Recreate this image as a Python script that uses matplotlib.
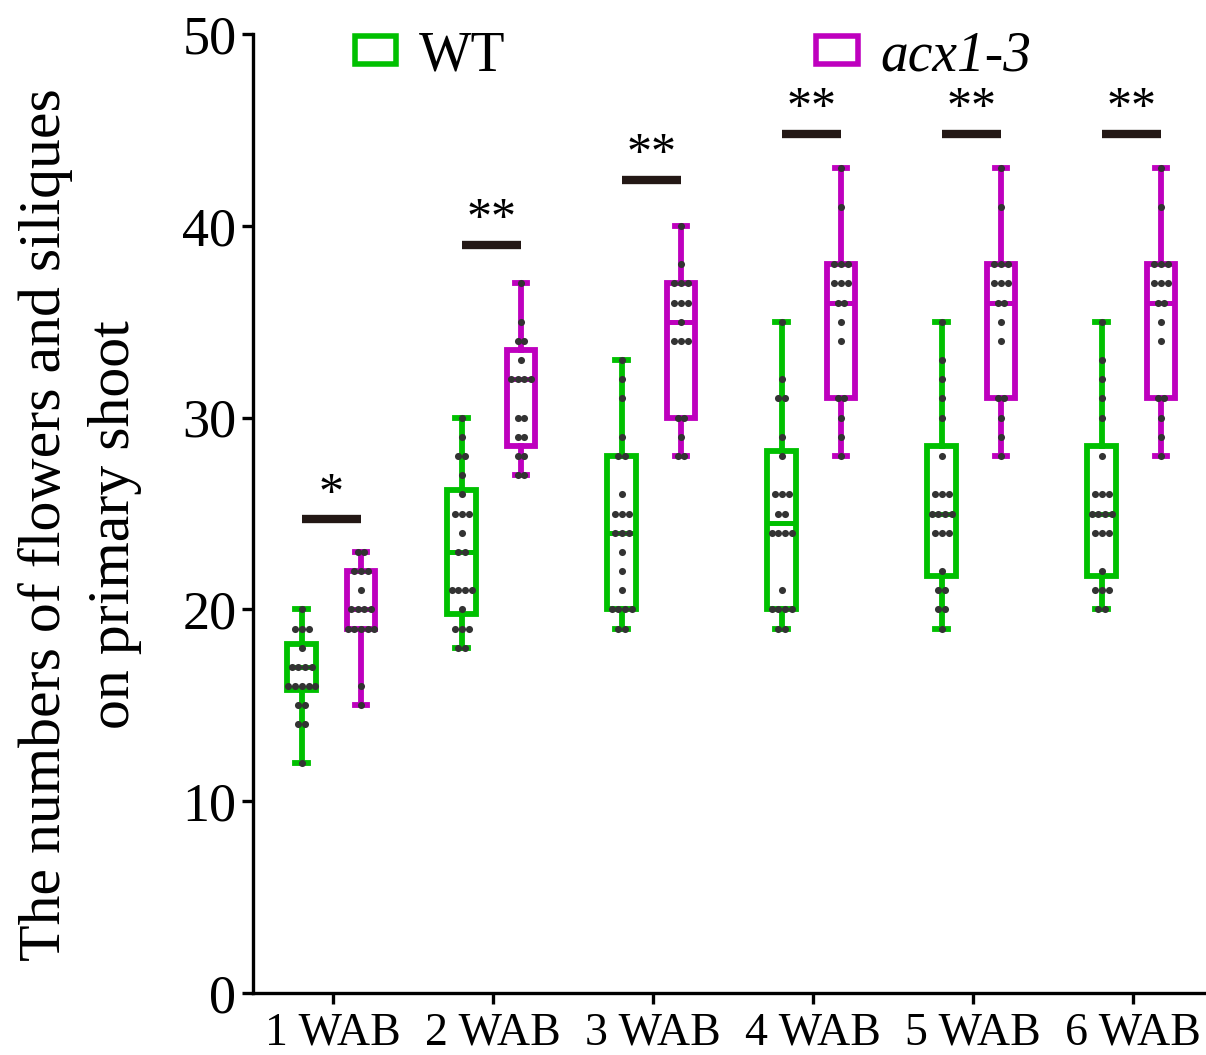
import matplotlib
matplotlib.use("Agg")
import matplotlib.pyplot as plt
from matplotlib.patches import Patch

plt.rcParams['font.family'] = ['Liberation Serif', 'DejaVu Serif']

groups = ['1 WAB', '2 WAB', '3 WAB', '4 WAB', '5 WAB', '6 WAB']

# individual plants
wt_values = [
    [20, 19, 19, 19, 18, 17, 17, 17, 17, 16, 16, 16, 16, 16, 15, 15, 14, 14, 12],
    [30, 29, 28, 28, 27, 26, 25, 25, 25, 24, 23, 23, 21, 21, 21, 21, 20, 19, 19, 19, 18, 18],
    [33, 32, 31, 29, 28, 28, 26, 25, 25, 25, 24, 24, 24, 23, 22, 21, 20, 20, 20, 20, 19, 19],
    [35, 32, 31, 31, 29, 28, 26, 26, 26, 25, 25, 24, 24, 24, 24, 21, 20, 20, 20, 20, 19, 19],
    [35, 33, 32, 31, 30, 28, 26, 26, 26, 25, 25, 25, 25, 24, 24, 24, 22, 21, 21, 20, 20, 19],
    [35, 33, 32, 31, 30, 28, 26, 26, 26, 25, 25, 25, 25, 24, 24, 24, 22, 21, 21, 21, 20, 20],
]
acx_values = [
    [23, 23, 22, 22, 22, 21, 20, 20, 20, 20, 19, 19, 19, 19, 19, 16, 15],
    [37, 35, 34, 34, 33, 32, 32, 32, 32, 30, 30, 29, 29, 28, 28, 27, 27],
    [40, 38, 37, 37, 37, 36, 36, 36, 35, 34, 34, 34, 30, 30, 29, 28, 28],
    [43, 41, 38, 38, 38, 37, 37, 37, 36, 36, 35, 34, 31, 31, 30, 29, 28],
    [43, 41, 38, 38, 38, 37, 37, 37, 36, 36, 35, 34, 31, 31, 30, 29, 28],
    [43, 41, 38, 38, 38, 37, 37, 37, 36, 36, 35, 34, 31, 31, 30, 29, 28],
]

# box statistics as drawn (quartiles from the original software)
wt_q1 = [15.8, 19.75, 20, 20, 21.75, 21.75]
wt_med = [17, 23, 24, 24.5, 25, 25]
wt_q3 = [18.2, 26.25, 28, 28.25, 28.5, 28.5]
acx_q1 = [19, 28.5, 30, 31, 31, 31]
acx_med = [20, 32, 35, 36, 36, 36]
acx_q3 = [22, 33.5, 37, 38, 38, 38]

sig_y = [24.7, 39.0, 42.4, 44.8, 44.8, 44.8]
sig_text = ['*', '**', '**', '**', '**', '**']

green = '#00C000'
magenta = '#BE00BE'
dot_color = '#333333'
bar_color = '#231815'

fig = plt.figure(figsize=(12.06, 10.55), dpi=100)
ax = fig.add_axes([253 / 1206, 62 / 1055, 960 / 1206, 959 / 1055])

xs = list(range(1, len(groups) + 1))
off_wt, off_acx = -0.195, 0.175


def draw(values, q1, med, q3, offset, color):
    stats = []
    for v, a, m, b in zip(values, q1, med, q3):
        stats.append(dict(med=m, q1=a, q3=b, whislo=min(v), whishi=max(v), fliers=[]))
    pos = [x + offset for x in xs]
    lw = 4.2
    ax.bxp(stats, positions=pos, widths=0.18, showfliers=False, patch_artist=True,
           boxprops=dict(facecolor='white', edgecolor=color, linewidth=lw),
           medianprops=dict(color=color, linewidth=lw * 0.85),
           whiskerprops=dict(color=color, linewidth=lw),
           capprops=dict(color=color, linewidth=lw), capwidths=0.08,
           manage_ticks=False, zorder=2)
    for p, v in zip(pos, values):
        for val in sorted(set(v)):
            n = v.count(val)
            px = [p + (i - (n - 1) / 2) * 0.042 for i in range(n)]
            ax.scatter(px, [val] * n, s=26, color=dot_color, zorder=4, linewidths=0)


draw(wt_values, wt_q1, wt_med, wt_q3, off_wt, green)
draw(acx_values, acx_q1, acx_med, acx_q3, off_acx, magenta)

for x, y, t in zip(xs, sig_y, sig_text):
    ax.plot([x + off_wt, x + off_acx], [y, y], color=bar_color, linewidth=6,
            solid_capstyle='butt', zorder=3)
    ax.text(x + (off_wt + off_acx) / 2, y + 1.3, t, ha='center', va='center',
            fontsize=36, color='black')

ax.set_xlim(0.5, 6.5)
ax.set_ylim(0, 50)
ax.set_xticks(xs)
ax.set_xticklabels(groups, fontsize=33)
ax.set_yticks([0, 10, 20, 30, 40, 50])
ax.tick_params(axis='y', labelsize=39, width=2.4, length=8, pad=4)
ax.tick_params(axis='x', width=2.4, length=8, pad=6)
for s in ['top', 'right']:
    ax.spines[s].set_visible(False)
for s in ['left', 'bottom']:
    ax.spines[s].set_linewidth(2.4)

ax.set_ylabel('The numbers of flowers and siliques\non primary shoot', fontsize=43,
              labelpad=29, linespacing=1.37)
ax.yaxis.label.set_y(0.488)

handles = [Patch(facecolor='white', edgecolor=green, linewidth=4),
           Patch(facecolor='white', edgecolor=magenta, linewidth=4)]
leg = ax.legend(handles, ['WT', 'acx1-3'], loc='center left', bbox_to_anchor=(0.106, 0.977),
                ncol=2, frameon=False, fontsize=40, handlelength=0.75, handleheight=0.4,
                handletextpad=0.4, columnspacing=5.6, borderpad=0, borderaxespad=0)
leg.get_texts()[1].set_style('italic')

fig.savefig('out.png', dpi=100)
